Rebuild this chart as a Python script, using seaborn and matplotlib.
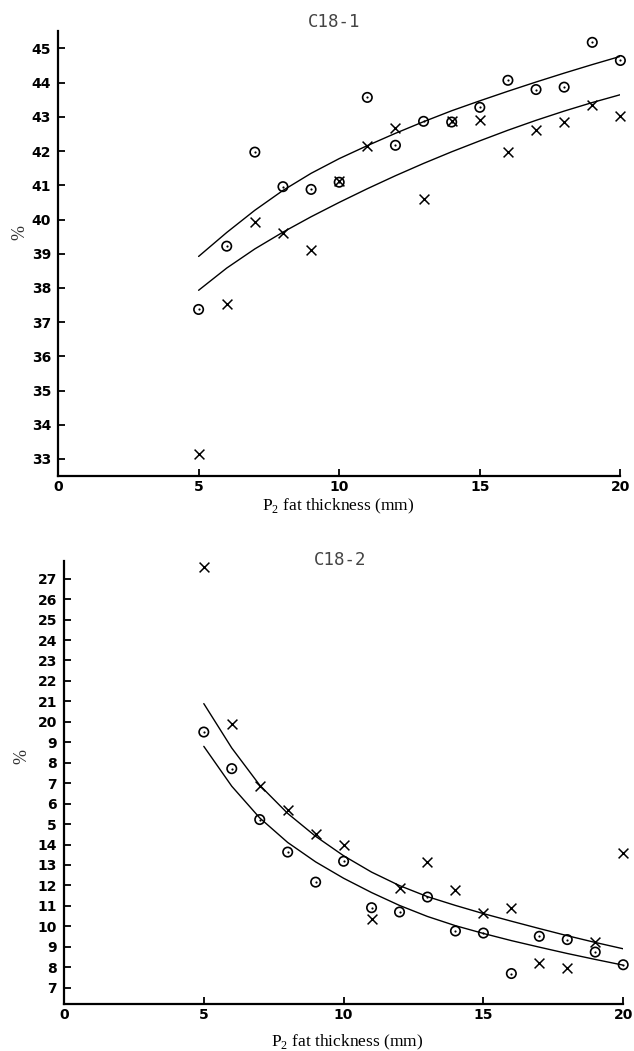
import matplotlib
matplotlib.use("Agg")
import matplotlib.pyplot as plt
import seaborn as sns
import pandas as pd

# ---------------- data ----------------
fat_mm = [5, 6, 7, 8, 9, 10, 11, 12, 13, 14, 15, 16, 17, 18, 19, 20]

# C18-1 panel
c181_circle = [37.37, 39.22, 41.97, 40.96, 40.88, 41.09, 43.57, 42.17,
               42.87, 42.85, 43.28, 44.07, 43.80, 43.87, 45.18, 44.65]
c181_cross = [33.15, 37.54, 39.92, 39.61, 39.12, 41.12, 42.14, 42.68,
              40.61, 42.88, 42.90, 41.98, 42.63, 42.85, 43.34, 43.02]
c181_circle_curve = [38.92, 39.62, 40.27, 40.85, 41.35, 41.78, 42.16, 42.52,
                     42.86, 43.18, 43.47, 43.75, 44.02, 44.28, 44.53, 44.77]
c181_cross_curve = [37.93, 38.58, 39.14, 39.63, 40.08, 40.50, 40.90, 41.28,
                    41.64, 41.98, 42.30, 42.61, 42.90, 43.17, 43.42, 43.65]
c181_yticks = [33, 34, 35, 36, 37, 38, 39, 40, 41, 42, 43, 44, 45]
c181_ylabels = ["33", "34", "35", "36", "37", "38", "39", "40", "41", "42",
                "43", "44", "45"]

# C18-2 panel
c182_circle = [19.50, 17.71, 15.22, 13.63, 12.16, 13.18, 10.91, 10.70,
               11.43, 9.77, 9.67, 7.69, 9.51, 9.35, 8.74, 8.12]
c182_cross = [27.57, 19.91, 16.84, 15.67, 14.50, 13.99, 10.37, 11.89,
              13.13, 11.76, 10.65, 10.91, 8.20, 7.98, 9.25, 13.58]
c182_cross_curve = [20.89, 18.72, 16.90, 15.52, 14.40, 13.45, 12.65, 11.99,
                    11.45, 11.02, 10.62, 10.25, 9.89, 9.54, 9.21, 8.90]
c182_circle_curve = [18.80, 16.85, 15.30, 14.10, 13.15, 12.35, 11.65, 11.02,
                     10.48, 10.03, 9.65, 9.30, 8.98, 8.67, 8.38, 8.10]
c182_yticks = [7, 8, 9, 10, 11, 12, 13, 14, 15, 16, 17, 18, 19, 20, 21, 22,
               23, 24, 25, 26, 27]
c182_ylabels = ["7", "8", "9", "10", "11", "12", "13", "14", "5", "6", "7",
                "8", "9", "20", "21", "22", "23", "24", "25", "26", "27"]

x_ticks = [0, 5, 10, 15, 20]
x_labels = ["0", "5", "10", "15", "20"]
titles = ["C18-1", "C18-2"]
x_title = r"P$_{\mathrm{2}}$ fat thickness (mm)"
y_title = "%"

# ---------------- style ----------------
sns.set_theme(style="ticks")
plt.rcParams["font.family"] = ["DejaVu Sans"]
plt.rcParams["mathtext.fontset"] = "custom"
plt.rcParams["mathtext.rm"] = "Liberation Serif"
plt.rcParams["axes.facecolor"] = "white"
plt.rcParams["figure.facecolor"] = "white"

W, H = 634, 1051
fig = plt.figure(figsize=(W / 100, H / 100), dpi=100)


def draw_panel(ax, circ, cross, circ_curve, cross_curve, ylim, yticks,
               ylabels):
    df = pd.DataFrame({"fat": fat_mm, "circle": circ, "cross": cross,
                       "circle_curve": circ_curve,
                       "cross_curve": cross_curve})
    sns.lineplot(data=df, x="fat", y="circle_curve", ax=ax, color="black",
                 linewidth=1.0)
    sns.lineplot(data=df, x="fat", y="cross_curve", ax=ax, color="black",
                 linewidth=1.0)
    sns.scatterplot(data=df, x="fat", y="circle", ax=ax, marker="o", s=46,
                    facecolor="none", edgecolor="black", linewidth=1.2,
                    zorder=3, clip_on=False)
    sns.scatterplot(data=df, x="fat", y="circle", ax=ax, marker="o", s=2.5,
                    color="black", linewidth=0, zorder=4, clip_on=False)
    sns.scatterplot(data=df, x="fat", y="cross", ax=ax, marker="x", s=50,
                    color="black", linewidth=1.1, zorder=3, clip_on=False)
    ax.set_xlim(0, 20)
    ax.set_ylim(*ylim)
    ax.set_xticks(x_ticks, x_labels, fontsize=10, fontweight="bold")
    ax.set_yticks(yticks, ylabels, fontsize=10, fontweight="bold")
    ax.tick_params(direction="in", length=5, width=1.3, colors="black",
                   pad=3)
    ax.tick_params(axis="y", pad=5)
    for s in ["top", "right"]:
        ax.spines[s].set_visible(False)
    for s in ["left", "bottom"]:
        ax.spines[s].set_color("black")
        ax.spines[s].set_linewidth(1.6)
    ax.set_xlabel("")
    ax.set_ylabel("")


ax1 = fig.add_axes([58 / W, 1 - 476 / H, 562.4 / W, 444.6 / H])
draw_panel(ax1, c181_circle, c181_cross, c181_circle_curve, c181_cross_curve,
           (32.5, 45.5), c181_yticks, c181_ylabels)

ax2 = fig.add_axes([64 / W, 1 - 1004 / H, 559.2 / W, 442.7 / H])
draw_panel(ax2, c182_circle, c182_cross, c182_circle_curve, c182_cross_curve,
           (6.2, 27.85), c182_yticks, c182_ylabels)

# titles
fig.text(334 / W, 1 - 22 / H, titles[0], ha="center", va="center",
         family="DejaVu Sans Mono", fontsize=12.5, color="#444444")
fig.text(340 / W, 1 - 560 / H, titles[1], ha="center", va="center",
         family="DejaVu Sans Mono", fontsize=12.5, color="#444444")

# x labels
fig.text(338 / W, 1 - 506 / H, x_title, ha="center", va="center",
         family="Liberation Serif", fontsize=12.5, color="black")
fig.text(347 / W, 1 - 1042 / H, x_title, ha="center", va="center",
         family="Liberation Serif", fontsize=12.5, color="black")

# y labels
fig.text(20 / W, 1 - 233 / H, y_title, ha="center", va="center",
         rotation=90, family="Liberation Serif", fontsize=13, color="#333333")
fig.text(22 / W, 1 - 757 / H, y_title, ha="center", va="center",
         rotation=90, family="Liberation Serif", fontsize=13, color="#333333")

fig.savefig("out.png", dpi=100)
